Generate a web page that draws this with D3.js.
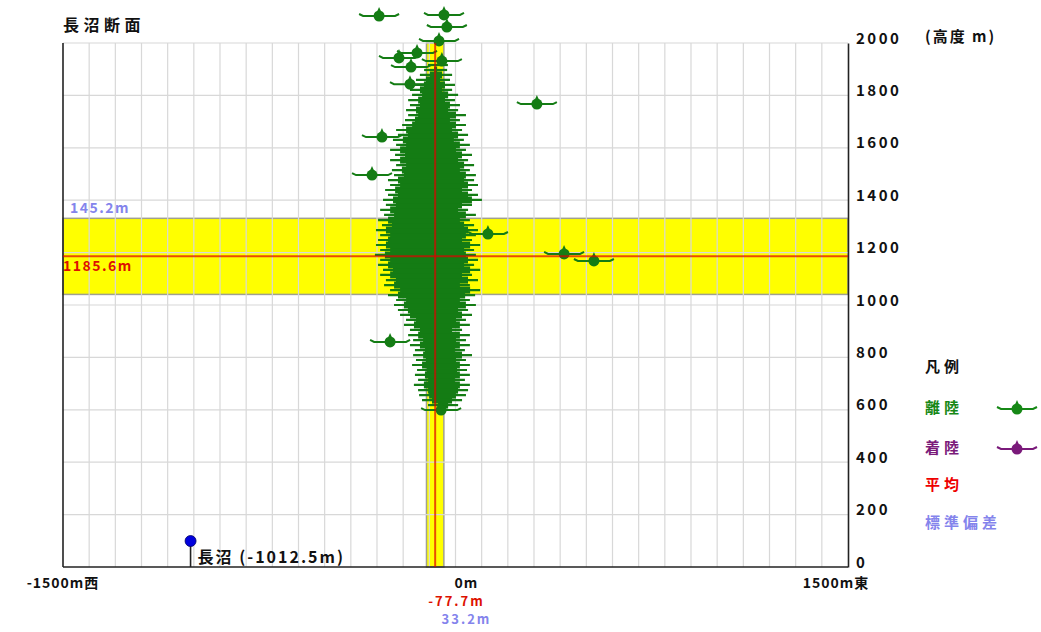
<!DOCTYPE html>
<html>
<head>
<meta charset="utf-8">
<script src="https://cdn.jsdelivr.net/npm/d3@7"></script>
<style>
  body { margin: 0; background: #fff; }
  text { font-family: "Noto Sans CJK JP", "DejaVu Sans", sans-serif; font-weight: bold; }
</style>
</head>
<body>
<svg width="1041" height="632"></svg>
<script>
const width = 1041
const height = 632

// dense part of the departure tracks: height (m) and west / east extent (m) per row
const rowHeights = [618,637,656,675,695,714,733,752,771,790,809,828,847,866,885,905,924,943,962,981,1000,1019,
  1038,1057,1076,1095,1115,1134,1153,1172,1191,1210,1229,1248,1267,1286,1305,1324,1344,1363,1382,
  1401,1420,1439,1458,1477,1496,1515,1534,1553,1573,1592,1611,1630,1649,1668,1687,1706,1725,1744,1763,1782,1802,1821,1840,1859,1878,1897,1916]
const rowWest = [-105,-128,-139,-143,-159,-143,-155,-147,-166,-151,-162,-155,-174,-162,-181,-174,-197,-189,-212,-220,-235,-227,
  -258,-250,-273,-266,-288,-277,-296,-288,-308,-288,-304,-296,-288,-304,-281,-296,-273,-288,-266,
  -277,-258,-269,-250,-258,-235,-243,-227,-250,-231,-250,-227,-239,-220,-227,-204,-193,-181,-189,-174,-181,-166,-174,-159,-151,-136,-120,-105]
const rowEast = [10,25,40,48,55,36,55,44,55,40,63,36,55,40,55,25,55,40,63,48,78,55,
  75,94,55,86,63,94,71,86,78,71,94,63,78,86,71,55,78,48,63,
  101,86,63,86,71,78,55,71,48,63,40,55,32,48,25,40,17,40,10,17,-2,10,-13,-2,-21,-13,-32,-29]

// single departure points outside the dense part
const depX = [-292,-44,-33,-63,-216,-147,-170,-52,-174,-281,-319,311,124,415,529,-250,-55]
const depH = [2103,2107,2061,2008,1943,1962,1908,1931,1843,1641,1496,1767,1271,1195,1168,859,599]

// statistics
const meanX = -77.7, stdX = 33.2
const meanH = 1185.6, stdH = 145.2
const stationName = "長沼", stationX = -1012.5

const yTicks = [0,200,400,600,800,1000,1200,1400,1600,1800,2000]
const xTickValues = [-1500, 0, 1500]
const xTickLabels = ["-1500m西", "0m", "1500m東"]
const legendLabels = ["離陸", "着陸", "平均", "標準偏差"]
const legendColors = ["#168816", "#7a1a7a", "#ee0000", "#8484ec"]

const green = "#147c14"

const x = d3.scaleLinear().domain([-1500, 1500]).range([63, 848])
const y = d3.scaleLinear().domain([0, 2000]).range([567, 43])

const svg = d3.select("svg")

// std bands
svg.append("rect")
    .attr("x", x(-1500)).attr("width", x(1500) - x(-1500))
    .attr("y", y(meanH + stdH)).attr("height", y(meanH - stdH) - y(meanH + stdH))
    .attr("fill", "#ffff00").attr("stroke", "#a0a090").attr("stroke-width", 1.5)
svg.append("rect")
    .attr("x", x(meanX - stdX)).attr("width", x(meanX + stdX) - x(meanX - stdX))
    .attr("y", y(2000)).attr("height", y(0) - y(2000))
    .attr("fill", "#ffff00").attr("stroke", "#a0a090").attr("stroke-width", 1.5)

// grid
const grid = svg.append("g").attr("stroke", "#d8d8d8").attr("stroke-width", 1.2)
grid.selectAll("line.v")
    .data(d3.range(-1400, 1500, 100))
    .join("line")
    .attr("x1", d => x(d)).attr("x2", d => x(d))
    .attr("y1", y(2000)).attr("y2", y(0))
grid.selectAll("line.h")
    .data(yTicks.slice(1))
    .join("line")
    .attr("x1", x(-1500)).attr("x2", x(1500))
    .attr("y1", d => y(d)).attr("y2", d => y(d))

// axes
svg.append("line").attr("x1", x(-1500)).attr("x2", x(-1500)).attr("y1", y(2000)).attr("y2", y(0))
    .attr("stroke", "#222").attr("stroke-width", 1.6)
svg.append("line").attr("x1", x(-1500)).attr("x2", x(1500)).attr("y1", y(0)).attr("y2", y(0))
    .attr("stroke", "#222").attr("stroke-width", 1.6)

const yAxis = svg.append("g")
    .attr("transform", `translate(${x(1500)},0)`)
    .call(d3.axisRight(y).tickValues(yTicks).tickFormat(d3.format("d")).tickSize(0).tickPadding(8))
yAxis.select(".domain").attr("stroke", "#222").attr("stroke-width", 1.6)
yAxis.selectAll("text")
    .attr("dy", "0")
    .style("font-size", "15px")
    .style("font-weight", "bold")
    .style("letter-spacing", "2.5px")
    .attr("fill", "#111")

// dense departure rows
const rows = rowHeights.map((h, i) => ({h, w: rowWest[i], e: rowEast[i]}))
const dense = svg.append("g").attr("fill", green).attr("stroke", green)
dense.selectAll("rect")
    .data(rows)
    .join("rect")
    .attr("x", d => x(d.w) + 10)
    .attr("width", d => Math.max(0, x(d.e) - x(d.w) - 20))
    .attr("y", d => y(d.h) - 3.5)
    .attr("height", 7)
    .attr("stroke", "none")
dense.selectAll("line")
    .data(rows)
    .join("line")
    .attr("x1", d => x(d.w)).attr("x2", d => x(d.e))
    .attr("y1", d => y(d.h)).attr("y2", d => y(d.h))
    .attr("stroke-width", 2.2)

// plane marker
function marker(g, color) {
    g.append("path").attr("d", "M-20,-2L-16,0L16,0L20,-2")
        .attr("fill", "none").attr("stroke", color).attr("stroke-width", 2)
    g.append("circle").attr("r", 5.5).attr("fill", color)
    g.append("path").attr("d", "M-2.2,-4L0,-9L2.2,-4Z").attr("fill", color)
}

svg.append("g").selectAll("g")
    .data(depX.map((v, i) => ({x: v, h: depH[i]})))
    .join("g")
    .attr("transform", d => `translate(${x(d.x)},${y(d.h)})`)
    .each(function() { marker(d3.select(this), green) })

// mean lines
svg.append("line")
    .attr("x1", x(-1500)).attr("x2", x(1500)).attr("y1", y(meanH)).attr("y2", y(meanH))
    .attr("stroke", "#e00000").attr("stroke-opacity", 0.7).attr("stroke-width", 2)
svg.append("line")
    .attr("x1", x(meanX)).attr("x2", x(meanX)).attr("y1", y(2000)).attr("y2", y(0))
    .attr("stroke", "#e00000").attr("stroke-opacity", 0.7).attr("stroke-width", 2)

// band labels
svg.append("text").attr("x", x(-1500) + 7).attr("y", y(meanH + stdH) - 5)
    .attr("fill", "#8484ec").style("font-size", "14px").style("letter-spacing", "1.5px")
    .text(stdH.toFixed(1) + "m")
svg.append("text").attr("x", x(-1500)).attr("y", y(meanH) + 15)
    .attr("fill", "#dd1100").style("font-size", "14px").style("letter-spacing", "1.5px")
    .text(meanH.toFixed(1) + "m")

// x tick labels
svg.append("g").selectAll("text")
    .data(xTickValues)
    .join("text")
    .attr("x", (d, i) => x(d) + [0, 11, -12][i])
    .attr("y", 588)
    .attr("text-anchor", "middle")
    .attr("fill", "#111")
    .style("font-size", "14px")
    .style("letter-spacing", "1px")
    .text((d, i) => xTickLabels[i])
svg.append("text").attr("x", x(0) + 1).attr("y", 606).attr("text-anchor", "middle")
    .attr("fill", "#dd1100").style("font-size", "13px").style("letter-spacing", "2px")
    .text(meanX.toFixed(1) + "m")
svg.append("text").attr("x", x(0) + 11).attr("y", 624).attr("text-anchor", "middle")
    .attr("fill", "#8484ec").style("font-size", "13px").style("letter-spacing", "2px")
    .text(stdX.toFixed(1) + "m")

// station
svg.append("line").attr("x1", x(stationX)).attr("x2", x(stationX)).attr("y1", 545).attr("y2", y(0))
    .attr("stroke", "#222").attr("stroke-width", 1.6)
svg.append("circle").attr("cx", x(stationX)).attr("cy", 541).attr("r", 5.5)
    .attr("fill", "#0000dd").attr("stroke", "#000066").attr("stroke-width", 0.8)
svg.append("text").attr("x", x(stationX) + 7).attr("y", 563)
    .attr("fill", "#111").style("font-size", "16px").style("letter-spacing", "2px")
    .text(`${stationName} (${stationX.toFixed(1)}m)`)

// title and unit
svg.append("text").attr("x", 63).attr("y", 31).attr("fill", "#111")
    .style("font-size", "16px").style("letter-spacing", "4.5px").text("長沼断面")
svg.append("text").attr("x", 925).attr("y", 42).attr("fill", "#111")
    .style("font-size", "15px").style("letter-spacing", "2px").text("(高度 m)")

// legend
svg.append("text").attr("x", 925).attr("y", 372).attr("fill", "#111")
    .style("font-size", "15px").style("letter-spacing", "4px").text("凡例")
const legend = svg.append("g").selectAll("g")
    .data(legendLabels)
    .join("g")
    .attr("transform", (d, i) => `translate(925,${[413, 453, 490, 528][i]})`)
legend.append("text")
    .attr("fill", (d, i) => legendColors[i])
    .style("font-size", "15px").style("letter-spacing", "4px")
    .text(d => d)
legend.filter((d, i) => i < 2).append("g")
    .attr("transform", "translate(92,-4)")
    .each(function(d, i) { marker(d3.select(this), legendColors[i]) })
</script>
</body>
</html>
